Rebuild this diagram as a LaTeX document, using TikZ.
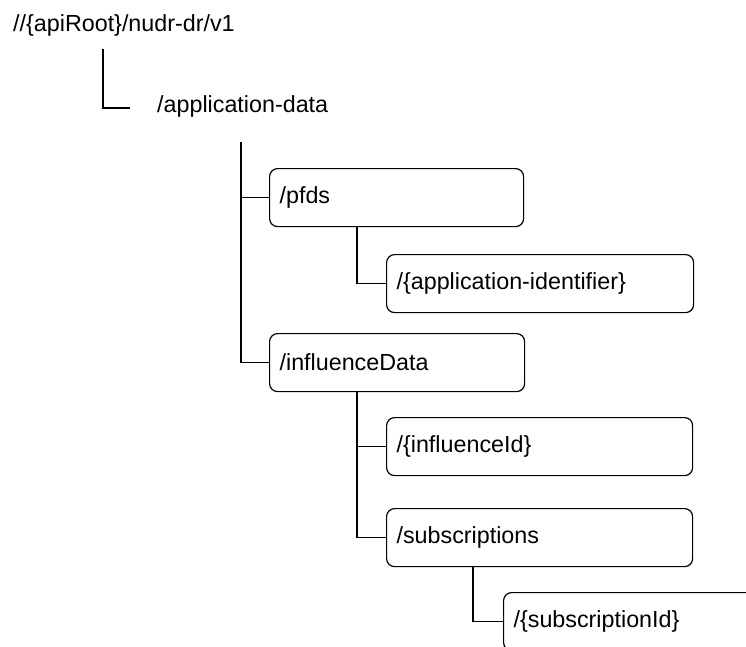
\documentclass[tikz,border=0pt]{standalone}
\usepackage{fontspec}
\setmainfont{Liberation Sans}
\begin{document}
\begin{tikzpicture}[x=1pt,y=-1pt,
  lbl/.style={inner sep=0pt, anchor=base west, font=\fontsize{23.3}{28}\selectfont},
  resbox/.style={draw, line width=1.2pt, rounded corners=8pt, anchor=north west,
    minimum height=58pt, inner xsep=10pt, inner ysep=0pt, align=left,
    font=\fontsize{23.3}{28}\selectfont},
  conn/.style={line width=1.2pt}]
\useasboundingbox (0,0) rectangle (746,646);
\clip (0,0) rectangle (746,646);
\node[lbl] (root) at (13,31.5) {//\{apiRoot\}/nudr-dr/v1};
\node[lbl] (appdata) at (157,112.5) {/application-data};
\node[resbox, text width=234pt] (pfds) at (269,168) {/pfds};
\node[resbox, text width=287pt] (appid) at (386,254) {/\{application-identifier\}};
\node[resbox, text width=235pt] (infl) at (269,333) {/influenceData};
\node[resbox, text width=286pt] (inflid) at (386,417) {/\{influenceId\}};
\node[resbox, text width=286pt] (subs) at (386,508) {/subscriptions};
\node[resbox, text width=287pt] (subid) at (503,592) {/\{subscriptionId\}};
\coordinate (rootdown) at (103,49);
\coordinate (rootend) at (130,108);
\coordinate (adown) at (241,142);
\draw[conn] (rootdown) |- (rootend);
\draw[conn] (adown) |- (infl.west);
\draw[conn] (adown |- pfds.west) -- (pfds.west);
\draw[conn] ([xshift=88pt]pfds.south west) |- (appid.west);
\draw[conn] ([xshift=88pt]infl.south west) |- (subs.west);
\draw[conn] ([xshift=88pt]infl.south west |- inflid.west) -- (inflid.west);
\draw[conn] ([xshift=87pt]subs.south west) |- (subid.west);
\end{tikzpicture}
\end{document}
